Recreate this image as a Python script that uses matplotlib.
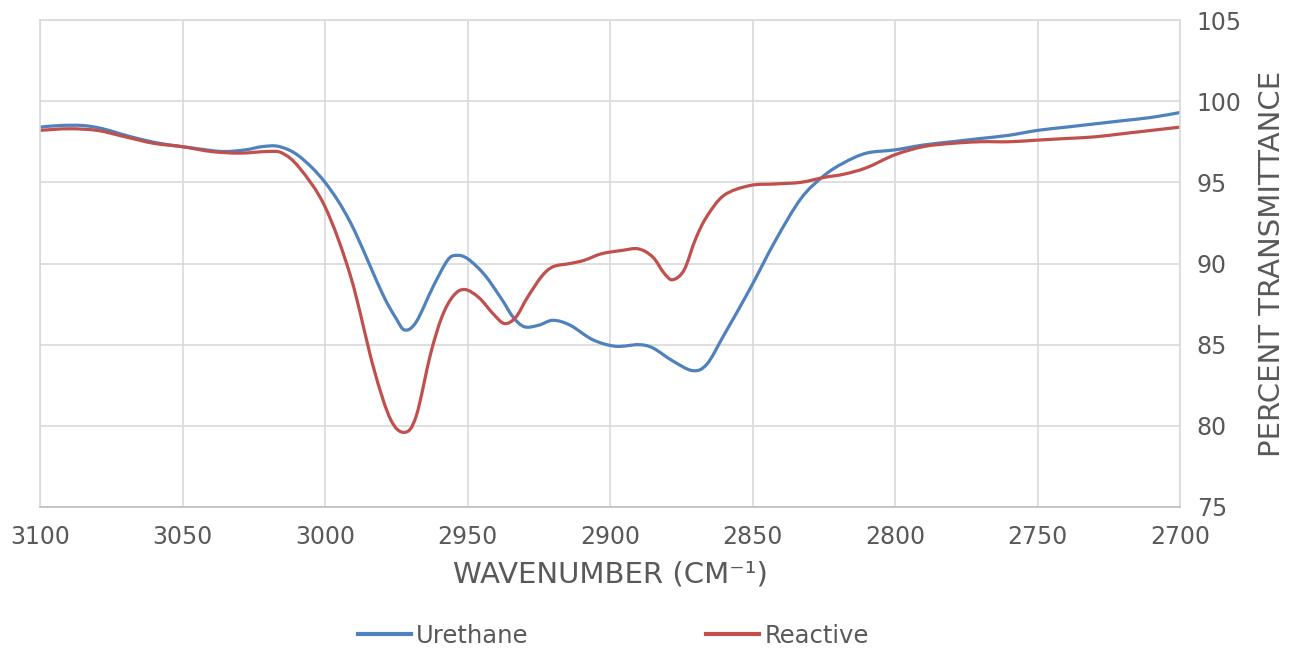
import matplotlib.pyplot as plt
import numpy as np
from matplotlib.path import Path
from matplotlib.patches import PathPatch
from matplotlib.lines import Line2D

# wavenumber (cm-1) and % transmittance
wn_urethane = [3100, 3093, 3085, 3078, 3068, 3058, 3046, 3036, 3028, 3022, 3016, 3009,
               3000, 2991, 2980, 2975, 2972, 2968, 2962, 2957, 2954, 2950, 2944, 2938,
               2934, 2930, 2925, 2920, 2914, 2906, 2898, 2890, 2885, 2878, 2871, 2866,
               2860, 2851, 2842, 2833, 2825, 2818, 2810, 2800, 2790, 2780, 2770, 2760,
               2750, 2740, 2730, 2720, 2710, 2700]
tr_urethane = [98.4, 98.5, 98.5, 98.3, 97.8, 97.4, 97.1, 96.9, 97.0, 97.2, 97.2, 96.6,
               95.0, 92.5, 88.2, 86.6, 85.9, 86.4, 88.6, 90.2, 90.5, 90.3, 89.3, 87.8,
               86.7, 86.1, 86.2, 86.5, 86.2, 85.3, 84.9, 85.0, 84.8, 84.0, 83.4, 83.8,
               85.6, 88.4, 91.4, 94.0, 95.4, 96.2, 96.8, 97.0, 97.3, 97.5, 97.7, 97.9,
               98.2, 98.4, 98.6, 98.8, 99.0, 99.3]

wn_reactive = [3100, 3090, 3080, 3070, 3060, 3050, 3040, 3030, 3020, 3015, 3009, 3000,
               2991, 2983, 2977, 2972, 2968, 2963, 2959, 2955, 2951, 2946, 2941, 2937,
               2933, 2929, 2924, 2920, 2914, 2909, 2903, 2896, 2890, 2885, 2881, 2878,
               2874, 2870, 2866, 2860, 2851, 2842, 2833, 2825, 2818, 2810, 2800, 2790,
               2780, 2770, 2760, 2750, 2740, 2730, 2720, 2710, 2700]
tr_reactive = [98.2, 98.3, 98.2, 97.8, 97.4, 97.2, 96.9, 96.8, 96.9, 96.8, 95.9, 93.5,
               89.2, 83.6, 80.4, 79.6, 80.6, 84.4, 86.7, 88.0, 88.4, 87.9, 86.9, 86.3,
               86.7, 87.9, 89.2, 89.8, 90.0, 90.2, 90.6, 90.8, 90.9, 90.4, 89.4, 89.0,
               89.6, 91.5, 92.9, 94.2, 94.8, 94.9, 95.0, 95.3, 95.5, 95.9, 96.7, 97.2,
               97.4, 97.5, 97.5, 97.6, 97.7, 97.8, 98.0, 98.2, 98.4]

x_ticks = [3100, 3050, 3000, 2950, 2900, 2850, 2800, 2750, 2700]
y_ticks = [75, 80, 85, 90, 95, 100, 105]

text_col = '#595959'
grid_col = '#d9d9d9'
blue = '#4f81bd'
red = '#c0504d'


def smooth_path(xs, ys):
    # excel-style "smoothed line": bezier segments through the points
    p = np.column_stack([xs, ys]).astype(float)
    n = len(p)
    verts = [p[0]]
    codes = [Path.MOVETO]
    for i in range(n - 1):
        p0 = p[max(i - 1, 0)]
        p3 = p[min(i + 2, n - 1)]
        c1 = p[i] + (p[i + 1] - p0) / 6
        c2 = p[i + 1] - (p3 - p[i]) / 6
        verts += [c1, c2, p[i + 1]]
        codes += [Path.CURVE4] * 3
    return Path(verts, codes)


fig = plt.figure(figsize=(12.91, 6.48), dpi=100)
ax = fig.add_axes([40 / 1291, 1 - 507 / 648, 1140 / 1291, 487 / 648])

ax.add_patch(PathPatch(smooth_path(wn_urethane, tr_urethane), fill=False,
                       edgecolor=blue, lw=2.3, capstyle='round', joinstyle='round'))
ax.add_patch(PathPatch(smooth_path(wn_reactive, tr_reactive), fill=False,
                       edgecolor=red, lw=2.3, capstyle='round', joinstyle='round'))

ax.set_xlim(3100, 2700)
ax.set_ylim(75, 105)
ax.set_xticks(x_ticks)
ax.set_yticks(y_ticks)
ax.grid(True, color=grid_col, lw=1.2)
ax.set_axisbelow(True)
for s in ax.spines.values():
    s.set_color(grid_col)
    s.set_linewidth(1.2)
ax.spines['bottom'].set_color('#bfbfbf')

ax.yaxis.tick_right()
ax.yaxis.set_label_position('right')
ax.tick_params(axis='both', length=0, labelsize=17, labelcolor=text_col)
ax.tick_params(axis='x', pad=13)
ax.tick_params(axis='y', pad=12)

ax.set_xlabel('WAVENUMBER (CM\u207b\u00b9)', fontsize=21, color=text_col, labelpad=8)
ax.set_ylabel('PERCENT TRANSMITTANCE', fontsize=21, color=text_col, labelpad=12)

handles = [Line2D([], [], color=blue, lw=3), Line2D([], [], color=red, lw=3)]
fig.legend(handles, ['Urethane', 'Reactive'], loc='center',
           bbox_to_anchor=(0.475, 1 - 636 / 648), ncol=2, frameon=False,
           fontsize=17.5, labelcolor=text_col, handlelength=2.2,
           handletextpad=0.2, columnspacing=7.3)

plt.savefig('out.png', dpi=100)
